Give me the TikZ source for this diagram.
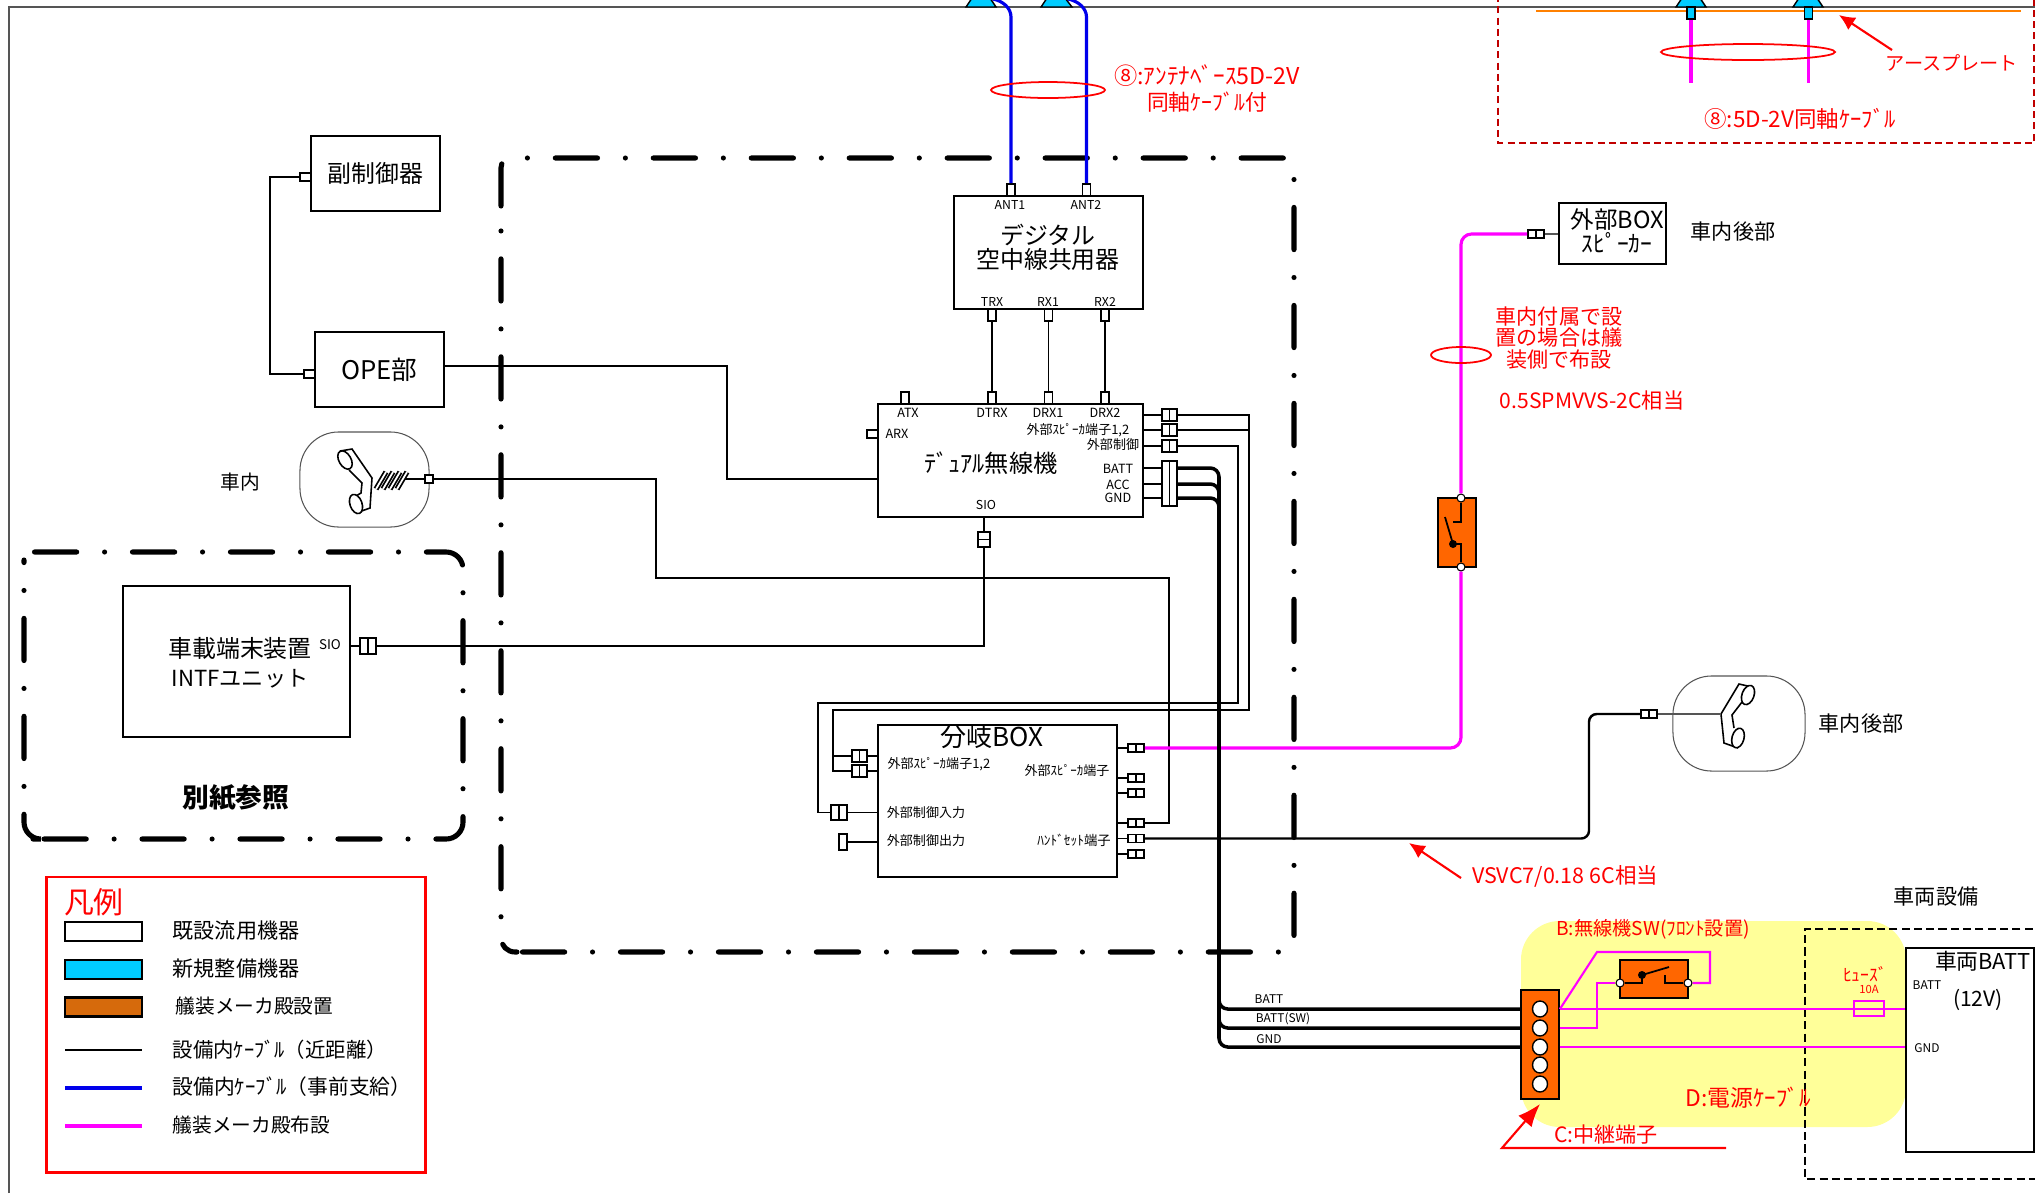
\documentclass[tikz,border=0pt]{standalone}
\usepackage{fontspec}
\setmainfont{Noto Sans CJK JP}
\usetikzlibrary{arrows.meta}
\usetikzlibrary{shapes.geometric}
\tikzset{>=latex}
\definecolor{cyandev}{RGB}{0,204,255}
\definecolor{orangedev}{RGB}{255,102,0}
\definecolor{browndev}{RGB}{214,106,12}
\definecolor{yellowarea}{RGB}{255,255,153}
\definecolor{magentacab}{RGB}{255,0,255}
\definecolor{bluecab}{RGB}{0,0,235}
\definecolor{darkred}{RGB}{192,0,0}
\definecolor{frameline}{RGB}{85,85,85}
\tikzset{
	lab/.style={font=\fontsize{#1}{#1}\selectfont, inner sep=0pt, align=center},
	redlab/.style={lab=#1, text=red},
	devbox/.style={draw, line width=0.5pt, fill=white, inner sep=0pt, font=\fontsize{6.8}{6.8}\selectfont},
	swbox/.style={draw, line width=0.8pt, fill=orangedev, inner sep=0pt},
	hsetbox/.style={draw=frameline, line width=0.3pt, fill=white, rounded corners=11pt, inner sep=0pt},
	port/.style={draw, line width=0.5pt, fill=white, inner sep=0pt, minimum width=0.08cm, minimum height=0.12cm},
	twin/.style={port, minimum width=0.16cm, minimum height=0.08cm, path picture={\draw[line width=0.5pt] (path picture bounding box.north) -- (path picture bounding box.south);}},
	twinh/.style={port, minimum width=0.12cm, minimum height=0.15cm, path picture={\draw[line width=0.5pt] (path picture bounding box.west) -- (path picture bounding box.east);}},
	hole/.style={draw, line width=0.4pt, fill=white, ellipse, inner sep=0pt, minimum width=0.15cm, minimum height=0.16cm},
	swdot/.style={draw, line width=0.3pt, fill=white, circle, inner sep=0pt, minimum size=0.08cm},
	wire/.style={line width=0.45pt},
	power/.style={line width=1pt, rounded corners=2.5pt},
	bluecable/.style={draw=bluecab, line width=0.9pt},
	pinkcable/.style={draw=magentacab, line width=0.9pt},
	pinkthin/.style={draw=magentacab, line width=0.6pt},
	region/.style={line width=1.45pt, line cap=round, dash pattern=on 12pt off 7.93pt on 0pt off 7.93pt},
	ring/.style={draw=red, line width=0.5pt},
	redarrow/.style={draw=red, line width=0.6pt, -{Latex[length=4.5pt,width=4.2pt]}},
}
\begin{document}
\begin{tikzpicture}[x=0.01cm,y=-0.01cm]
	\useasboundingbox (0,0) rectangle (2035,1193);
	\clip (0,0) rectangle (2035,1193);

	\fill[yellowarea, rounded corners=11pt] (1521,921) rectangle (1906,1127);
	\draw[line width=0.5pt, dash pattern=on 2.3pt off 1.2pt] (2045,929) -- (1805,929) -- (1805,1179) -- (2045,1179);

	\draw[frameline, line width=0.5pt] (9,1193) -- (9,7) -- (2035,7);

	\draw[region, rounded corners=2.8pt] (501,206) -- (501,158) -- (1294,158) -- (1294,952) -- (518,952);
	\draw[region, rounded corners=4pt, dash phase=7.1pt] (517,952) -- (501,952) -- (501,220);
	\draw[region, rounded corners=4.8pt] (34.5,552) -- (463,552) -- (463,839) -- (41,839);
	\draw[region, rounded corners=4.8pt] (33,839) -- (24,839) -- (24,560);

	\draw[darkred, line width=0.5pt, dash pattern=on 2pt off 1.2pt] (1498,-5) -- (1498,143) -- (2034,143) -- (2034,-5);
	\draw[orange, line width=0.6pt] (1536,11) -- (2021,11);

	\filldraw[fill=cyandev, line width=0.4pt] (966,7) -- (972,-2) -- (990,-2) -- (996,7) -- cycle;
	\filldraw[fill=cyandev, line width=0.4pt] (1041,7) -- (1047,-2) -- (1065,-2) -- (1072,7) -- cycle;
	\filldraw[fill=cyandev, line width=0.4pt] (1676,7) -- (1682,-2) -- (1700,-2) -- (1706,7) -- cycle;
	\filldraw[fill=cyandev, line width=0.4pt] (1793,7) -- (1799,-2) -- (1817,-2) -- (1823,7) -- cycle;
	\node[port, fill=cyandev] (stemA) at (1691,13){};
	\node[port, fill=cyandev] (stemB) at (1808.5,13){};
	\coordinate (endA) at (1691,83);
	\coordinate (endB) at (1808.5,83);
	\draw[pinkcable] (stemA.south) -- (endA);
	\draw[pinkcable] (stemB.south) -- (endB);
	\draw[ring] (1748,52) ellipse (87 and 8);

	\node[redlab=5.45] (earthText) at(1952,63){アースプレート};
	\coordinate (earthTail) at (1892,50);
	\coordinate (earthTip) at (1839,15);
	\draw[redarrow] (earthTail) -- (earthTip);
	\node[redlab=6.4] (coaxText) at(1800,119){⑧:5D-2V同軸ｹｰﾌﾞﾙ};

	\node[devbox, minimum width=1.89cm, minimum height=1.13cm] (coupler) at (1048.5,252.5){};
	\node[lab=6.8] (couplerText) at(1048,247){デジタル\\空中線共用器};
	\node[lab=3.5] (antAText) at(1010,205){ANT1};
	\node[lab=3.5] (antBText) at(1086,205){ANT2};
	\node[lab=3.5] (trxText) at(992,302){TRX};
	\node[lab=3.5] (rxAText) at(1048,302){RX1};
	\node[lab=3.5] (rxBText) at(1105,302){RX2};
	\node[port] (antA) at (1011,190){};
	\node[port] (antB) at (1086.5,190){};
	\node[port] (trx) at (992,315){};
	\node[port] (rxA) at (1048.5,315){};
	\node[port] (rxB) at (1105,315){};
	\coordinate (antTopA) at (993,-1);
	\coordinate (antTopB) at (1068,-1);
	\draw[bluecable] (antA.north) -- (1011,17) .. controls (1011,8) and (1003,1) .. (antTopA);
	\draw[bluecable] (antB.north) -- (1086.5,17) .. controls (1086.5,8) and (1078,1) .. (antTopB);
	\draw[ring] (1048,90) ellipse (57 and 8);
	\node[redlab=6.6] (antLabel) at(1207,76){⑧:ｱﾝﾃﾅﾍﾞｰｽ5D-2V};
	\node[redlab=6.2] (antLabelB) at(1207,102){同軸ｹｰﾌﾞﾙ付};

	\node[devbox, minimum width=2.65cm, minimum height=1.13cm] (radio) at (1010.5,460.5){};
	\node[lab=6.9] (radioText) at(991,463){ﾃﾞｭｱﾙ無線機};
	\node[lab=3.6] (atxText) at(908,413){ATX};
	\node[lab=3.6] (dtrxText) at(992,413){DTRX};
	\node[lab=3.6] (drxAText) at(1048,413){DRX1};
	\node[lab=3.6] (drxBText) at(1105,413){DRX2};
	\node[lab=3.6] (arxText) at(897,434){ARX};
	\node[lab=3.7] (spkText) at(1078,430){外部ｽﾋﾟｰｶ端子1,2};
	\node[lab=3.7] (ctlText) at(1113,445){外部制御};
	\node[lab=3.6] (battText) at(1118,469){BATT};
	\node[lab=3.6] (accText) at(1118,485){ACC};
	\node[lab=3.6] (gndText) at(1118,498){GND};
	\node[lab=3.5] (sioText) at(986,505){SIO};
	\node[port] (atx) at (905,398){};
	\node[port] (dtrx) at (992,398){};
	\node[port] (drxA) at (1048.5,398){};
	\node[port] (drxB) at (1105,398){};
	\node[port, minimum width=0.11cm, minimum height=0.08cm] (arx) at (872.5,434){};
	\draw[wire] (trx.south) -- (dtrx.north);
	\draw[wire] (rxA.south) -- (drxA.north);
	\draw[wire] (rxB.south) -- (drxB.north);

	\node[twin, minimum width=0.15cm, minimum height=0.12cm] (outA) at (1169.5,415){};
	\node[twin, minimum width=0.15cm, minimum height=0.12cm] (outB) at (1169.5,430){};
	\node[twin, minimum width=0.15cm, minimum height=0.12cm] (outC) at (1169.5,446){};
	\node[twin, minimum width=0.15cm, minimum height=0.45cm] (outP) at (1169.5,483.5){};
	\node[twinh] (sioPort) at (984,539.5){};
	\draw[wire] (radio.east |- outA) -- (outA.west);
	\draw[wire] (radio.east |- outB) -- (outB.west);
	\draw[wire] (radio.east |- outC) -- (outC.west);
	\draw[wire] (radio.south -| sioPort) -- (sioPort.north);
	\draw[wire] (radio.east |- 0,468) -- (outP.west |- 0,468);
	\draw[wire] (radio.east |- 0,484) -- (outP.west |- 0,484);
	\draw[wire] (radio.east |- 0,498) -- (outP.west |- 0,498);

	\node[devbox, minimum width=2.39cm, minimum height=1.52cm] (branch) at (997.5,801){};
	\node[lab=7.4] (branchText) at(992,737){分岐BOX};
	\node[lab=3.7] (brSpkText) at(939,764){外部ｽﾋﾟｰｶ端子1,2};
	\node[lab=3.7] (brSpkOutText) at(1067,770){外部ｽﾋﾟｰｶ端子};
	\node[lab=3.7] (brInText) at(926,813){外部制御入力};
	\node[lab=3.7] (brOutText) at(926,841){外部制御出力};
	\node[lab=3.8] (brHsetText) at(1074,840){ﾊﾝﾄﾞｾｯﾄ端子};
	\node[twin, minimum width=0.15cm, minimum height=0.12cm] (inA) at (859.5,756){};
	\node[twin, minimum width=0.15cm, minimum height=0.12cm] (inB) at (859.5,771){};
	\node[twin, minimum height=0.15cm] (ctlIn) at (839,812.5){};
	\node[port, minimum height=0.16cm] (ctlOut) at (843,842){};
	\node[twin] (brA) at (1136,748){};
	\node[twin] (brB) at (1136,778){};
	\node[twin] (brC) at (1136,793){};
	\node[twin] (brD) at (1136,823){};
	\node[twin] (brE) at (1136,838.5){};
	\node[twin] (brF) at (1136,854){};
	\draw[wire] (branch.west |- inA) -- (inA.east);
	\draw[wire] (branch.west |- inB) -- (inB.east);
	\draw[wire] (branch.west |- ctlIn) -- (ctlIn.east);
	\draw[wire] (branch.west |- ctlOut) -- (ctlOut.east);
	\draw[wire] (branch.east |- brA) -- (brA.west);
	\draw[wire] (branch.east |- brB) -- (brB.west);
	\draw[wire] (branch.east |- brC) -- (brC.west);
	\draw[wire] (branch.east |- brD) -- (brD.west);
	\draw[wire] (branch.east |- brE) -- (brE.west);
	\draw[wire] (branch.east |- brF) -- (brF.west);

	\draw[wire] (outA.east) -| (1249,600) |- (833,710) |- (inB.west);
	\draw[wire] (outB.east) -| (1249,600);
	\draw[wire] (inA.west) -| (833,710);
	\draw[wire] (outC.east) -| (1238,600) |- (818,703) |- (ctlIn.west);

	\node[devbox, minimum width=1.29cm, minimum height=0.75cm] (sub) at (375.5,173.5){副制御器};
	\node[devbox, minimum width=1.29cm, minimum height=0.75cm, font=\fontsize{7.3}{7.3}\selectfont] (ope) at (379.5,369.5){OPE部};
	\node[port, minimum width=0.11cm, minimum height=0.08cm] (subPort) at (305.5,177){};
	\node[port, minimum width=0.11cm, minimum height=0.08cm] (opePort) at (309.5,374){};
	\draw[wire] (subPort.west) -| (270,280) |- (opePort.west);
	\draw[wire] (ope.east |- 0,366) -| (727,420) |- (radio.west |- 0,479);

	\node[hsetbox, minimum width=1.29cm, minimum height=0.95cm] (hsetCab) at (364.5,479.5){};
	\node[lab=5.6] (cabText) at(240,482){車内};
	\draw[line width=0.45pt] (340,451) -- (352,449) -- (372,478) -- (370,508) -- (356,513);
	\draw[line width=0.45pt] (349,470) -- (362,483) -- (361,493) -- (351,499);
	\filldraw[fill=white, line width=0.45pt, rotate around={30:(345,460)}] (345,460) ellipse (6 and 10);
	\filldraw[fill=white, line width=0.45pt, rotate around={20:(356,504)}] (356,504) ellipse (6 and 10);
	\draw[line width=1.5pt] (376,489) -- (386,472);
	\draw[line width=1.5pt] (383,489) -- (393,472);
	\draw[line width=1.5pt] (390,489) -- (400,472);
	\draw[line width=1.5pt] (397,489) -- (407,472);
	\draw[white, line width=0.5pt] (376,489) -- (386,472);
	\draw[white, line width=0.5pt] (383,489) -- (393,472);
	\draw[white, line width=0.5pt] (390,489) -- (400,472);
	\draw[white, line width=0.5pt] (397,489) -- (407,472);
	\node[port, minimum height=0.08cm] (hsetPort) at (429,479){};
	\draw[wire] (405,479) -- (hsetPort.west);
	\draw[wire] (hsetPort.east) -| (656,530) |- (1169,578) |- (brD.east);

	\node[devbox, minimum width=2.27cm, minimum height=1.51cm] (unit) at (236.5,661.5){};
	\node[lab=6.8] (unitText) at(240,663){車載端末装置\\[1.5pt]{\fontsize{6.3}{6.3}\selectfont INTFユニット}};
	\node[lab=3.8] (unitSio) at(330,645){SIO};
	\node[twin, minimum height=0.16cm] (unitPort) at (368,646){};
	\node[lab=7.2, font=\fontsize{7.6}{7.6}\selectfont\bfseries] (seeText) at(236,798){別紙参照};
	\draw[wire] (unit.east |- unitPort) -- (unitPort.west);
	\draw[wire] (unitPort.east) -| (sioPort.south);

	\node[devbox, minimum width=1.07cm, minimum height=0.61cm] (extSpk) at (1612.5,233.5){};
	\node[lab=6.7] (extSpkText) at(1617,231){外部BOX\\ｽﾋﾟｰｶｰ};
	\node[lab=6] (extSpkRear) at(1733,232){車内後部};
	\node[twin] (spkPort) at (1536,234){};
	\draw[frameline, line width=0.5pt] (spkPort.east) -- (extSpk.west |- spkPort);

	\node[swbox, minimum width=0.38cm, minimum height=0.69cm] (swRear) at (1457,532.5){};
	\node[swdot] (swRearT) at (1461,498){};
	\node[swdot] (swRearB) at (1461,567){};
	\draw[line width=0.5pt] (swRearT.south) -- (1461,522) -- (1453,522);
	\draw[line width=0.5pt] (swRearB.north) -- (1461,544) -- (1453,544);
	\fill (1453,544) circle (4);
	\draw[line width=0.5pt] (1453,544) -- (1445,517);
	\draw[pinkcable, rounded corners=3pt] (brA.east) -| (swRearB.south);
	\draw[pinkcable, rounded corners=3pt] (swRearT.north) |- (spkPort.west);
	\draw[ring] (1461,355) ellipse (30 and 8);
	\node[redlab=6] (shipText) at(1559,338){車内付属で設\\置の場合は艤\\装側で布設};
	\node[redlab=6] (spmText) at(1592,400){0.5SPMVVS-2C相当};

	\node[hsetbox, minimum width=1.32cm, minimum height=0.95cm] (hsetRear) at (1739,723.5){};
	\node[lab=6] (hsetRearText) at(1861,723){車内後部};
	\node[twin, minimum height=0.08cm] (rearPort) at (1649,714){};
	\coordinate (rearCord) at (1721,714);
	\draw[line width=0.45pt] (1721,714) -- (1739,684) -- (1752,687);
	\draw[line width=0.45pt] (1742,702) -- (1732,715) -- (1734,728);
	\draw[line width=0.45pt] (1721,714) -- (1724,743) -- (1738,748);
	\filldraw[fill=white, line width=0.45pt, rotate around={-20:(1748,695)}] (1748,695) ellipse (6 and 10);
	\filldraw[fill=white, line width=0.45pt, rotate around={-15:(1738,738)}] (1738,738) ellipse (6 and 10);
	\draw[line width=0.7pt, rounded corners=2.2pt] (brE.east) -| (1589,780) |- (rearPort.west);
	\draw[frameline, line width=0.45pt] (rearPort.east) -- (rearCord);
	\node[redlab=6.1] (vsvcText) at(1565,876){VSVC7/0.18 6C相当};
	\coordinate (vsvcTail) at (1461,878);
	\coordinate (vsvcTip) at (1409,843);
	\draw[redarrow] (vsvcTail) -- (vsvcTip);

	\node[devbox, minimum width=1.28cm, minimum height=2.04cm] (carBatt) at (1970,1050){};
	\node[lab=6.2] (carBattText) at(1983,961){車両BATT};
	\node[lab=6] (carBattV) at(1978,1000){(12V)};
	\node[lab=3.4] (carBattPos) at(1927,985){BATT};
	\node[lab=3.4] (carBattNeg) at(1927,1048){GND};
	\node[lab=6] (carText) at(1936,897){車両設備};

	\node[draw, line width=0.5pt, fill=orangedev, inner sep=0pt, minimum width=0.38cm, minimum height=1.09cm] (tblock) at (1540,1044.5){};
	\node[hole] (termA) at (1540,1009){};
	\node[hole] (termB) at (1540,1028){};
	\node[hole] (termC) at (1540,1047){};
	\node[hole] (termD) at (1540,1065){};
	\node[hole] (termE) at (1540,1084){};
	\coordinate (powerA) at (1177,468);
	\coordinate (powerB) at (1177,484);
	\coordinate (powerC) at (1177,498);
	\draw[power] (powerA) -| (1219,750) |- (tblock.west |- termA);
	\draw[power] (powerB) -| (1219,750) |- (tblock.west |- termB);
	\draw[power] (powerC) -| (1219,750) |- (tblock.west |- termC);
	\node[lab=3.4] (lineBatt) at(1269,999){BATT};
	\node[lab=3.4] (lineSw) at(1283,1019){BATT(SW)};
	\node[lab=3.4] (lineGnd) at(1269,1039){GND};

	\node[swbox, minimum width=0.68cm, minimum height=0.38cm] (swFront) at (1654,979){};
	\node[swdot] (swFrontL) at (1620,983){};
	\node[swdot] (swFrontR) at (1688,983){};
	\draw[line width=0.5pt] (swFrontL.east) -- (1642,983) -- (1642,975);
	\draw[line width=0.5pt] (swFrontR.west) -- (1665,983) -- (1665,975);
	\fill (1642,975) circle (4);
	\draw[line width=0.5pt] (1642,975) -- (1669,967);
	\draw[pinkthin] (tblock.east |- termA) -- (1597,952) -- (1710,952) |- (swFrontR.east);
	\draw[pinkthin] (tblock.east |- termB) -| (1597,1000) |- (swFrontL.west);
	\draw[pinkthin] (tblock.east |- termA) -- (carBatt.west |- termA);
	\draw[pinkthin] (tblock.east |- termC) -- (carBatt.west |- termC);
	\node[draw=magentacab, line width=0.6pt, inner sep=0pt, minimum width=0.30cm, minimum height=0.15cm] (fuse) at (1869,1008.5){};
	\node[redlab=5] (fuseText) at(1865,974){ﾋｭｰｽﾞ};
	\node[redlab=3.2] (fuseAmp) at(1869,989){10A};
	\node[redlab=5.45] (swFrontText) at(1653,929){B:無線機SW(ﾌﾛﾝﾄ設置)};
	\node[redlab=6.5] (cableText) at(1748,1098){D:電源ｹｰﾌﾞﾙ};
	\node[redlab=6] (blockText) at(1606,1134){C:中継端子};
	\coordinate (blockLineEnd) at (1726,1148);
	\coordinate (blockLineBend) at (1502,1148);
	\draw[draw=red, line width=0.6pt, -{Latex[length=6.5pt,width=5pt]}] (blockLineEnd) -- (blockLineBend) -- (tblock.south |- 0,1104);

	\node[draw=red, line width=0.8pt, inner sep=0pt, minimum width=3.78cm, minimum height=2.95cm] (legend) at (236,1024.5){};
	\node[redlab=8.5] (legendTitle) at(94,902){凡例};
	\node[draw, line width=0.6pt, fill=white, minimum width=0.77cm, minimum height=0.19cm, inner sep=0pt] (keyOld) at (103.5,931.5){};
	\node[draw, line width=0.6pt, fill=cyandev, minimum width=0.77cm, minimum height=0.19cm, inner sep=0pt] (keyNew) at (103.5,969.5){};
	\node[draw, line width=0.6pt, fill=browndev, minimum width=0.77cm, minimum height=0.19cm, inner sep=0pt] (keyShip) at (103.5,1007){};
	\draw[line width=0.45pt] (65,1050) -- (142,1050);
	\draw[bluecable] (65,1088) -- (142,1088);
	\draw[pinkcable] (65,1126) -- (142,1126);
	\node[lab=6, anchor=west] (keyOldText) at(172,931){既設流用機器};
	\node[lab=6, anchor=west] (keyNewText) at(172,969){新規整備機器};
	\node[lab=5.6, anchor=west] (keyShipText) at(175,1006){艤装メーカ殿設置};
	\node[lab=5.8, anchor=west] (keyNearText) at(172,1050){設備内ｹｰﾌﾞﾙ（近距離）};
	\node[lab=5.9, anchor=west] (keyPreText) at(172,1087){設備内ｹｰﾌﾞﾙ（事前支給）};
	\node[lab=5.6, anchor=west] (keyLayText) at(172,1125){艤装メーカ殿布設};
\end{tikzpicture}
\end{document}
